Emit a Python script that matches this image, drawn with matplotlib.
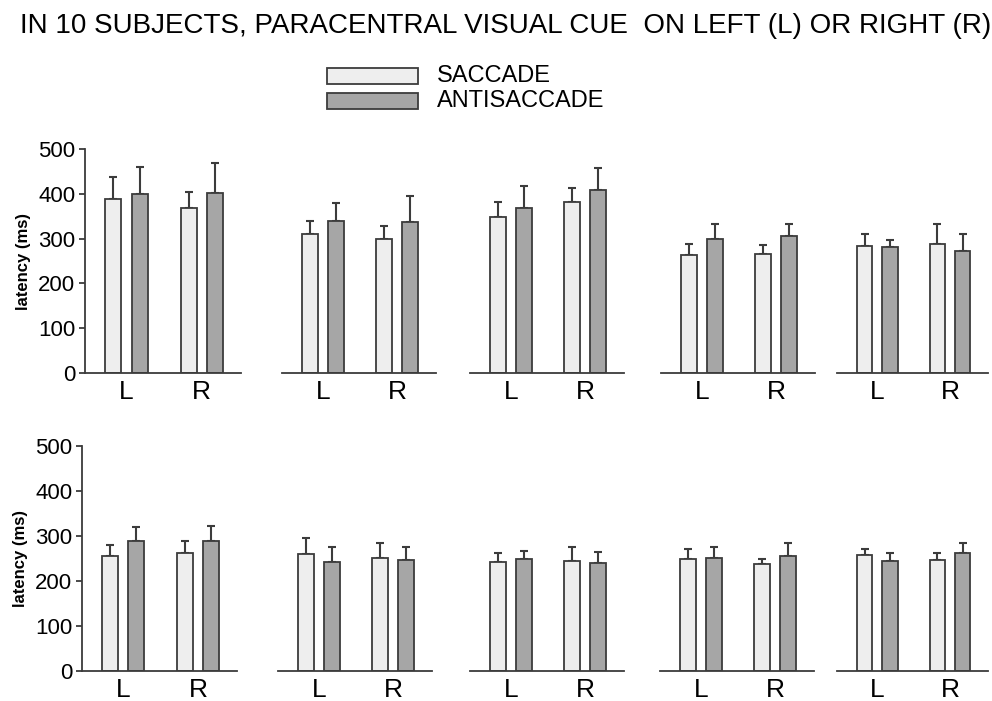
import matplotlib
matplotlib.use("Agg")
import matplotlib.pyplot as plt
from matplotlib.patches import Rectangle

plt.rcParams["font.family"] = ["Liberation Sans", "DejaVu Sans"]

TITLE = "IN 10 SUBJECTS, PARACENTRAL VISUAL CUE  ON LEFT (L) OR RIGHT (R)"
SIDES = ["L", "R"]
SERIES = ["SACCADE", "ANTISACCADE"]

# one row per subject: [L, R] mean latency (ms) and upper SD
sac_mean = [[388, 369], [310, 298], [349, 381], [264, 266], [283, 287],
            [255, 263], [260, 251], [243, 245], [248, 237], [258, 247]]
sac_sd = [[49, 36], [29, 30], [33, 32], [23, 20], [27, 45],
          [25, 27], [35, 33], [20, 30], [24, 13], [14, 15]]
anti_mean = [[399, 401], [340, 337], [368, 409], [298, 306], [282, 273],
             [288, 288], [243, 246], [248, 241], [252, 256], [245, 263]]
anti_sd = [[61, 67], [40, 57], [50, 48], [35, 26], [15, 38],
           [32, 34], [32, 30], [19, 23], [24, 29], [17, 22]]

SAC_COL = "#eeeeee"
ANTI_COL = "#a6a6a6"
EDGE = "#3c3c3c"

W, H = 992, 701
# panel left/right edges in pixels (scanned figure, slightly uneven)
TOP_X = [(85, 241), (282, 436), (470, 624), (661, 815), (837, 988)]
BOT_X = [(82, 237), (278, 432), (470, 624), (660, 814), (837, 988)]
ROWS = [(373, 149), (671, 446)]  # y pixel of 0 and 500

group_x = [2.6, 7.3]
off = 0.82
bw = 1.0

fig = plt.figure(figsize=(W / 100, H / 100), dpi=100)
fig.patch.set_facecolor("white")

for s in range(10):
    row = s // 5
    xs = (TOP_X if row == 0 else BOT_X)[s % 5]
    y0, y5 = ROWS[row]
    ax = fig.add_axes([xs[0] / W, (H - y0) / H, (xs[1] - xs[0]) / W, (y0 - y5) / H])
    for k, side in enumerate(SIDES):
        for mean, sd, col, dx in [(sac_mean, sac_sd, SAC_COL, -off),
                                  (anti_mean, anti_sd, ANTI_COL, off)]:
            x = group_x[k] + dx
            ax.errorbar(x, mean[s][k], yerr=[[0], [sd[s][k]]], color=EDGE,
                        elinewidth=1.5, capsize=3, capthick=1.5, zorder=1)
            ax.bar(x, mean[s][k], width=bw, color=col, edgecolor=EDGE,
                   linewidth=1.3, zorder=2)
    ax.set_xlim(0, 9.75)
    ax.set_ylim(0, 500)
    ax.set_xticks(group_x)
    ax.set_xticklabels(SIDES, fontsize=19)
    ax.tick_params(axis="x", length=0, pad=5)
    for sp in ("top", "right"):
        ax.spines[sp].set_visible(False)
    ax.spines["bottom"].set_color(EDGE)
    ax.spines["bottom"].set_linewidth(1.3)
    if s % 5 == 0:
        ax.spines["left"].set_color(EDGE)
        ax.spines["left"].set_linewidth(1.3)
        ax.set_yticks(range(0, 501, 100))
        ax.tick_params(axis="y", labelsize=16, length=4, width=1.3, color=EDGE, pad=3)
        ax.set_ylabel("latency (ms)", fontsize=12, fontweight="bold", labelpad=5)
    else:
        ax.spines["left"].set_visible(False)
        ax.set_yticks([])

fig.text(20 / W, 1 - 33 / H, TITLE, fontsize=20, va="baseline", ha="left")

# legend boxes
for i, (name, col) in enumerate(zip(SERIES, [SAC_COL, ANTI_COL])):
    top = 68 + i * 25
    fig.patches.append(Rectangle((327 / W, 1 - (top + 16) / H), 91 / W, 16 / H,
                                 transform=fig.transFigure, facecolor=col,
                                 edgecolor=EDGE, linewidth=1.3))
    fig.text(437 / W, 1 - (top + 8) / H, name, fontsize=17, va="center", ha="left")

fig.savefig("out.png", dpi=100, facecolor="white")
